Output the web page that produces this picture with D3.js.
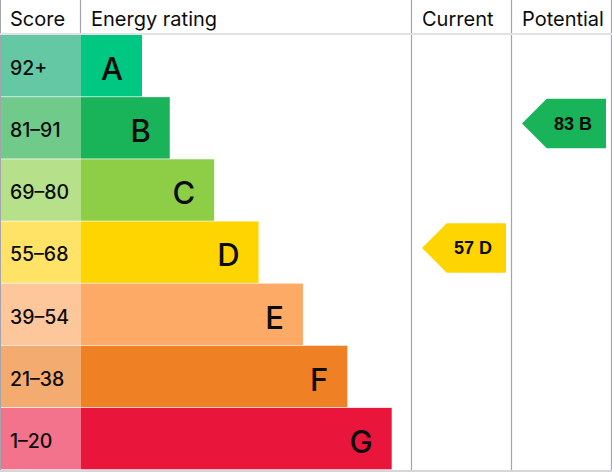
<!DOCTYPE html>
<html>
<head>
<meta charset="utf-8">
<script src="https://cdn.jsdelivr.net/npm/d3@7"></script>
<style>
  body { margin: 0; background: #fff; }
  svg { display: block; }
  text { font-family: Inter, "Noto Sans", sans-serif; fill: #0b0c0c; }
</style>
</head>
<body>
<svg id="epc_svg" width="612" height="472"></svg>
<script>
// EPC chart data
const bands = ['A', 'B', 'C', 'D', 'E', 'F', 'G'];
const scoreRanges = ['92+', '81–91', '69–80', '55–68', '39–54', '21–38', '1–20'];
const bandColors = ['#00c781', '#19b459', '#8dce46', '#ffd500', '#fcaa65', '#ef8023', '#e9153b'];
const scoreColors = ['#64c8a4', '#70cb8b', '#b6e08a', '#ffe367', '#fec69b', '#f4ab70', '#f2738b'];
const headers = ['Score', 'Energy rating', 'Current', 'Potential'];
const currentRating = { score: 57, band: 'D' };
const potentialRating = { score: 83, band: 'B' };

const W = 612, H = 472;
const headerH = 34;
const svg = d3.select('#epc_svg');

// columns: score | energy rating | current | potential
const colEdges = [0, 81, 412, 512, 612];

// rows
const y = d3.scaleBand()
    .domain(bands)
    .range([headerH + 1, 470]);

// bar length grows with band index, with a minimum for A
const barLen = d3.scaleLinear().domain([0, 7]).range([0, 310.7]);
const minBar = 61;

// grid lines
const grid = svg.append('g');
[colEdges[2], colEdges[3]].forEach(x => {
    grid.append('line')
        .attr('x1', x - 0.5).attr('x2', x - 0.5)
        .attr('y1', 0).attr('y2', 470)
        .attr('stroke', '#a4a4ac').attr('stroke-width', 1.2);
});
grid.append('line')
    .attr('x1', colEdges[1] - 0.5).attr('x2', colEdges[1] - 0.5)
    .attr('y1', 0).attr('y2', headerH)
    .attr('stroke', '#a4a4ac').attr('stroke-width', 1.2);
grid.append('line')
    .attr('x1', 0.5).attr('x2', 0.5).attr('y1', 0).attr('y2', 471)
    .attr('stroke', '#a4a4ac').attr('stroke-width', 1);
grid.append('line')
    .attr('x1', W - 0.5).attr('x2', W - 0.5).attr('y1', 0).attr('y2', 471)
    .attr('stroke', '#a4a4ac').attr('stroke-width', 1.2);
grid.append('line')
    .attr('x1', 0).attr('x2', W).attr('y1', headerH).attr('y2', headerH)
    .attr('stroke', '#e2e2e6').attr('stroke-width', 2);
grid.append('line')
    .attr('x1', 0).attr('x2', W).attr('y1', 471).attr('y2', 471)
    .attr('stroke', '#d6d6da').attr('stroke-width', 2);

// header labels
svg.selectAll('.hdr')
    .data(headers)
    .join('text')
    .attr('class', 'hdr')
    .attr('x', (d, i) => colEdges[i] + 10)
    .attr('y', 26)
    .style('font-size', '20px')
    .text(d => d);

// score cells
svg.selectAll('.score-cell')
    .data(bands)
    .join('rect')
    .attr('class', 'score-cell')
    .attr('x', 1)
    .attr('y', d => y(d))
    .attr('width', colEdges[1] - 1)
    .attr('height', y.bandwidth() - 0.7)
    .attr('fill', (d, i) => scoreColors[i]);

svg.selectAll('.score-label')
    .data(bands)
    .join('text')
    .attr('class', 'score-label')
    .attr('x', 10)
    .attr('y', d => y(d) + 40)
    .style('font-size', '19.5px')
    .style('font-weight', 500)
    .text((d, i) => scoreRanges[i]);

// rating bars
svg.selectAll('.bar')
    .data(bands)
    .join('rect')
    .attr('class', 'bar')
    .attr('x', colEdges[1])
    .attr('y', d => y(d))
    .attr('width', (d, i) => Math.max(minBar, barLen(i + 1)))
    .attr('height', y.bandwidth() - 0.7)
    .attr('fill', (d, i) => bandColors[i]);

svg.selectAll('.bar-label')
    .data(bands)
    .join('text')
    .attr('class', 'bar-label')
    .attr('x', (d, i) => colEdges[1] + Math.max(minBar, barLen(i + 1)) - 19)
    .attr('y', d => y(d) + 45)
    .attr('text-anchor', 'end')
    .style('font-size', '31px')
    .style('font-weight', 500)
    .text(d => d);

// arrow marker for current / potential rating
function drawArrow(rating, colIndex) {
    const left = colEdges[colIndex] + 10;
    const right = colEdges[colIndex + 1] - 6;
    const top = y(rating.band) + 1.7;
    const h = 49.5;
    const tip = h / 2;
    const i = bands.indexOf(rating.band);
    const g = svg.append('g');
    g.append('path')
        .attr('d', d3.line()([
            [left, top + tip], [left + tip, top], [right, top],
            [right, top + h], [left + tip, top + h]
        ]) + 'Z')
        .attr('fill', bandColors[i]);
    g.append('text')
        .attr('x', right - 14)
        .attr('y', top + tip + 6.3)
        .attr('text-anchor', 'end')
        .style('font-family', '"Liberation Sans", Arial, sans-serif')
        .style('font-weight', 'bold')
        .style('font-size', '18px')
        .text(`${rating.score} ${rating.band}`);
}
drawArrow(currentRating, 2);
drawArrow(potentialRating, 3);
</script>
</body>
</html>
